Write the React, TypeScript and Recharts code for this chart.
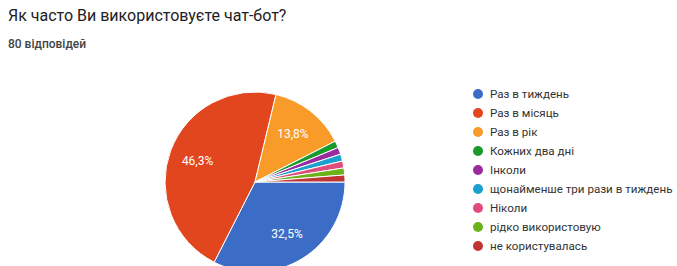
import { PieChart, Pie, Cell } from 'recharts'

const categories = [
  'Раз в тиждень',
  'Раз в місяць',
  'Раз в рік',
  'Кожних два дні',
  'Інколи',
  'щонайменше три рази в тиждень',
  'Ніколи',
  'рідко використовую',
  'не користувалась',
]
const responses = [26, 37, 11, 1, 1, 1, 1, 1, 1]
const colors = [
  '#3b6cc6',
  '#e2461f',
  '#f89b28',
  '#1a9a2a',
  '#9a2aa0',
  '#1aa0cf',
  '#e04c7c',
  '#6cb21a',
  '#bf3434',
]

const data = categories.map((name, i) => ({ name, value: responses[i] }))
const total = responses.reduce((a, b) => a + b, 0)

const RADIAN = Math.PI / 180

function renderLabel(props: any) {
  const { cx, cy, midAngle, outerRadius, value } = props
  const pct = (value / total) * 100
  if (pct < 5) return null
  const r = outerRadius * 0.68
  const x = cx + r * Math.cos(-midAngle * RADIAN)
  const y = cy + r * Math.sin(-midAngle * RADIAN)
  return (
    <text
      x={x}
      y={y}
      fill="#fff"
      textAnchor="middle"
      dominantBaseline="central"
      fontSize={12}
      fontFamily="Roboto, Arial, sans-serif"
    >
      {pct.toFixed(1).replace('.', ',')}%
    </text>
  )
}

export default function App() {
  return (
    <div
      style={{
        position: 'absolute',
        left: 0,
        top: 0,
        width: 677,
        height: 266,
        background: '#fff',
        overflow: 'hidden',
        fontFamily: 'Roboto, Arial, sans-serif',
      }}
    >
      <div style={{ position: 'absolute', left: 8, top: 6, fontSize: 16, color: '#202124' }}>
        Як часто Ви використовуєте чат-бот?
      </div>
      <div style={{ position: 'absolute', left: 8, top: 37, fontSize: 12, fontWeight: 500, color: '#444' }}>
        {total} відповідей
      </div>
      <div style={{ position: 'absolute', left: 0, top: 0 }}>
        <PieChart width={677} height={266}>
          <Pie
            data={data}
            dataKey="value"
            cx={250}
            cy={177}
            outerRadius={90}
            startAngle={0}
            endAngle={-360}
            stroke="#fff"
            strokeWidth={1}
            label={renderLabel}
            labelLine={false}
            isAnimationActive={false}
          >
            {data.map((d, i) => (
              <Cell key={d.name} fill={colors[i]} />
            ))}
          </Pie>
        </PieChart>
      </div>
      {categories.map((name, i) => (
        <div
          key={name}
          style={{
            position: 'absolute',
            left: 473,
            top: 94 + i * 19 - 7,
            height: 14,
            display: 'flex',
            alignItems: 'center',
            gap: 7,
            fontSize: 11.6,
            color: '#333',
            whiteSpace: 'nowrap',
          }}
        >
          <span
            style={{
              display: 'inline-block',
              width: 10,
              height: 10,
              borderRadius: '50%',
              background: colors[i],
            }}
          />
          {name}
        </div>
      ))}
    </div>
  )
}
